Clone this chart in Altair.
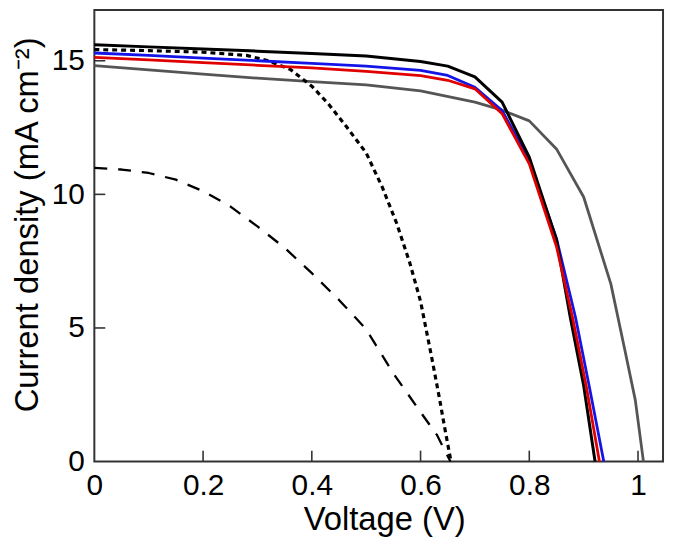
import altair as alt
import pandas as pd

# ---- data ----
V_black = [0, 0.1, 0.2, 0.3, 0.4, 0.5, 0.6, 0.65, 0.7, 0.75, 0.8, 0.85, 0.875, 0.9, 0.921]
J_black = [15.60, 15.52, 15.44, 15.36, 15.27, 15.18, 14.97, 14.80, 14.40, 13.45, 11.39, 8.30, 5.44, 2.85, 0]

V_red = [0, 0.1, 0.2, 0.3, 0.4, 0.5, 0.6, 0.65, 0.7, 0.75, 0.8, 0.85, 0.88, 0.905, 0.929]
J_red = [15.13, 15.03, 14.93, 14.83, 14.73, 14.60, 14.44, 14.27, 13.95, 13.02, 11.14, 8.05, 5.35, 2.80, 0]

V_blue = [0, 0.1, 0.2, 0.3, 0.4, 0.5, 0.6, 0.65, 0.7, 0.75, 0.8, 0.85, 0.885, 0.91, 0.937]
J_blue = [15.29, 15.20, 15.10, 15.00, 14.90, 14.80, 14.64, 14.45, 14.01, 13.14, 11.26, 8.35, 5.40, 2.85, 0]

V_gray = [0, 0.1, 0.2, 0.3, 0.4, 0.5, 0.6, 0.7, 0.75, 0.8, 0.85, 0.9, 0.95, 0.975, 0.995, 1.01]
J_gray = [14.82, 14.66, 14.50, 14.35, 14.22, 14.10, 13.87, 13.45, 13.15, 12.75, 11.70, 9.90, 6.65, 4.25, 2.30, 0]

V_dotted = [0, 0.1, 0.2, 0.28, 0.32, 0.36, 0.4, 0.43, 0.465, 0.5, 0.53, 0.556, 0.58, 0.6, 0.62, 0.635, 0.645, 0.656]
J_dotted = [15.42, 15.38, 15.32, 15.20, 15.00, 14.68, 14.05, 13.40, 12.50, 11.55, 10.25, 8.92, 7.45, 6.00, 3.95, 2.34, 1.20, 0]

V_dashed = [0, 0.05, 0.1, 0.15, 0.2, 0.25, 0.3, 0.35, 0.4, 0.45, 0.5, 0.55, 0.6, 0.63, 0.655]
J_dashed = [10.99, 10.93, 10.80, 10.55, 10.12, 9.55, 8.80, 8.00, 7.05, 6.05, 4.95, 3.30, 1.85, 1.00, 0]

X_LABELS = [0, 0.2, 0.4, 0.6, 0.8, 1.0]
Y_LABELS = [0, 5, 10, 15]
X_TICKS = [0.2, 0.4, 0.6, 0.8, 1.0]
Y_TICKS = [5, 10, 15]

FONT = "Liberation Sans"
W, H = 573, 455

x_scale = alt.Scale(domain=[0, 1.046], nice=False, zero=False)
y_scale = alt.Scale(domain=[0, 16.9], nice=False, zero=False)


def line(V, J, color, width, dash=None):
    kw = dict(color=color, strokeWidth=width, strokeCap="butt", strokeJoin="round")
    if dash:
        kw["strokeDash"] = dash
    df = pd.DataFrame({"V": V, "J": J, "i": list(range(len(V)))})
    return alt.Chart(df).mark_line(**kw).encode(
        x=alt.X("V:Q", scale=x_scale),
        y=alt.Y("J:Q", scale=y_scale),
        order="i:Q",
    )


x_axis = alt.Axis(
    values=X_LABELS, format="~g", tickSize=0, domain=False, grid=False,
    labelFlush=False, labelOverlap=False,
    labelFont=FONT, labelFontSize=30, labelColor="black", labelPadding=9,
    title="Voltage (V)", titleFont=FONT, titleFontSize=33, titleFontWeight="normal",
    titleColor="black", titleX=292, titleY=68, titleBaseline="alphabetic",
)
y_axis = alt.Axis(
    values=Y_LABELS, format="~g", tickSize=0, domain=False, grid=False,
    labelFlush=False, labelOverlap=False,
    labelFont=FONT, labelFontSize=30, labelColor="black", labelPadding=10,
    title="Current density (mA cm\u207b\u00b2)", titleFont=FONT, titleFontSize=33,
    titleFontWeight="normal", titleColor="black", titleX=-57, titleY=216,
    titleBaseline="alphabetic", titleAngle=270,
)

xt = alt.Chart(pd.DataFrame({"V": X_TICKS})).mark_rule(color="#333", strokeWidth=1.6).encode(
    x=alt.X("V:Q", scale=x_scale, axis=x_axis),
    y=alt.value(H), y2=alt.value(H - 11),
)
yt = alt.Chart(pd.DataFrame({"J": Y_TICKS})).mark_rule(color="#333", strokeWidth=1.6).encode(
    y=alt.Y("J:Q", scale=y_scale, axis=y_axis),
    x=alt.value(0), x2=alt.value(11),
)

chart = alt.layer(
    xt, yt,
    line(V_gray, J_gray, "#555555", 2.8),
    line(V_dashed, J_dashed, "#000000", 2.3, [13, 11]),
    line(V_dotted, J_dotted, "#000000", 3.2, [5, 4]),
    line(V_blue, J_blue, "#1414e6", 2.8),
    line(V_black, J_black, "#000000", 3.0),
    line(V_red, J_red, "#e00000", 2.8),
).properties(
    width=W, height=H,
    autosize=alt.AutoSizeParams(type="none"),
    padding={"left": 87, "top": 0, "right": 4, "bottom": 74},
).configure_view(stroke="#333", strokeWidth=2)

chart.save("out.html", embed_options={"renderer": "svg", "actions": False})
